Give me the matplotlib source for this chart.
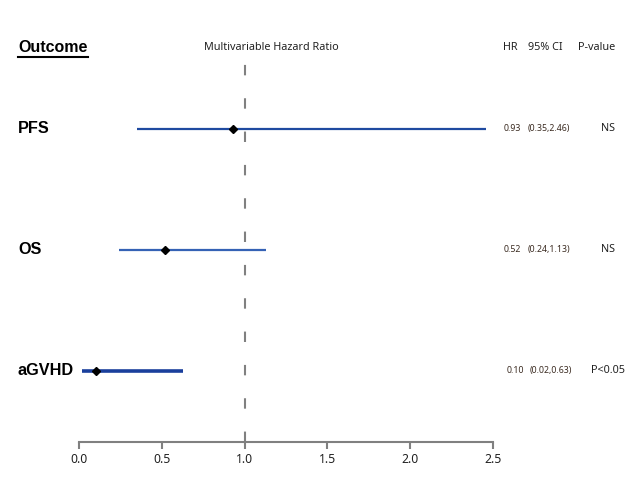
import matplotlib
matplotlib.use("Agg")
import matplotlib.pyplot as plt
import matplotlib.transforms as mtransforms
from matplotlib.lines import Line2D

plt.rcParams['font.family'] = ['Liberation Sans', 'DejaVu Sans']
SMALL = ['Noto Sans', 'DejaVu Sans']

outcomes = ['PFS', 'OS', 'aGVHD']
hr = [0.93, 0.52, 0.10]
ci_low = [0.35, 0.24, 0.02]
ci_high = [2.46, 1.13, 0.63]
hr_text = ['0.93', '0.52', '0.10']
ci_text = ['(0.35,2.46)', '(0.24,1.13)', '(0.02,0.63)']
p_text = ['NS', 'NS', 'P<0.05']
xticks = [0.0, 0.5, 1.0, 1.5, 2.0, 2.5]
xticklabels = ['0.0', '0.5', '1.0', '1.5', '2.0', '2.5']

W, H = 642, 480
fig = plt.figure(figsize=(W / 100, H / 100), dpi=100)
fig.patch.set_facecolor('white')

ax_left, ax_right = 79, 493
ax_top, ax_bottom = 52, 442
ax = fig.add_axes([ax_left / W, 1 - ax_bottom / H, (ax_right - ax_left) / W, (ax_bottom - ax_top) / H])
ax.set_xlim(0, 2.5)
ax.set_ylim(0.413, 3.636)

ypos = [3, 2, 1]
colors = ['#1f4aa0', '#3562b5', '#1a3f9c']
widths = [1.6, 1.6, 2.6]

ax.axvline(1.0, ymin=0, ymax=(ax_bottom - 58) / (ax_bottom - ax_top), color='#808080',
           lw=1.5, dashes=(5, 11), zorder=1)

for y, h, lo, hi, c, w in zip(ypos, hr, ci_low, ci_high, colors, widths):
    ax.plot([lo, hi], [y, y], color=c, lw=w, solid_capstyle='butt', zorder=2)
    ax.plot([h], [y], marker='D', color='black', markersize=4.3, zorder=3)

for s in ['top', 'right', 'left']:
    ax.spines[s].set_visible(False)
ax.spines['bottom'].set_color('#808080')
ax.spines['bottom'].set_linewidth(1.5)
ax.set_yticks([])
ax.set_xticks(xticks)
ax.set_xticklabels(xticklabels, fontfamily=SMALL)
ax.tick_params(axis='x', direction='out', length=5, width=1.5, color='#808080',
               labelsize=8.8, labelcolor='#222222', pad=3)

tr = mtransforms.blended_transform_factory(fig.transFigure, ax.transData)

def fx(px):
    return px / W

def fy(py):
    return 1 - py / H

# Headers
fig.text(fx(18), fy(47), 'Outcome', fontsize=11.5, fontweight='bold', ha='left', va='center')
fig.add_artist(Line2D([fx(18), fx(88)], [fy(57), fy(57)], color='black', lw=1.5))
fig.text(fx(271), fy(47), 'Multivariable Hazard Ratio', fontsize=7.8, ha='center', va='center',
         color='#222222', family=SMALL)
fig.text(fx(503), fy(47), 'HR', fontsize=7.8, ha='left', va='center', color='#222222', family=SMALL)
fig.text(fx(528), fy(47), '95% CI', fontsize=7.8, ha='left', va='center', color='#222222', family=SMALL)
fig.text(fx(578), fy(47), 'P-value', fontsize=7.8, ha='left', va='center', color='#222222', family=SMALL)

hr_x = [504, 504, 507]
ci_x = [528, 528, 530]
for y, name, ht, ct, pt, hx, cx in zip(ypos, outcomes, hr_text, ci_text, p_text, hr_x, ci_x):
    ax.text(fx(18), y, name, transform=tr, fontsize=11.7, fontweight='bold', ha='left', va='center')
    ax.text(fx(hx), y, ht, transform=tr, fontsize=6.3, ha='left', va='center', color='#3a2a20', family=SMALL)
    ax.text(fx(cx), y, ct, transform=tr, fontsize=6.3, ha='left', va='center', color='#3a2a20', family=SMALL)
    ax.text(fx(608), y, pt, transform=tr, fontsize=7.8, ha='center', va='center', color='#222222', family=SMALL)

fig.savefig('out.png', dpi=100, facecolor='white')
